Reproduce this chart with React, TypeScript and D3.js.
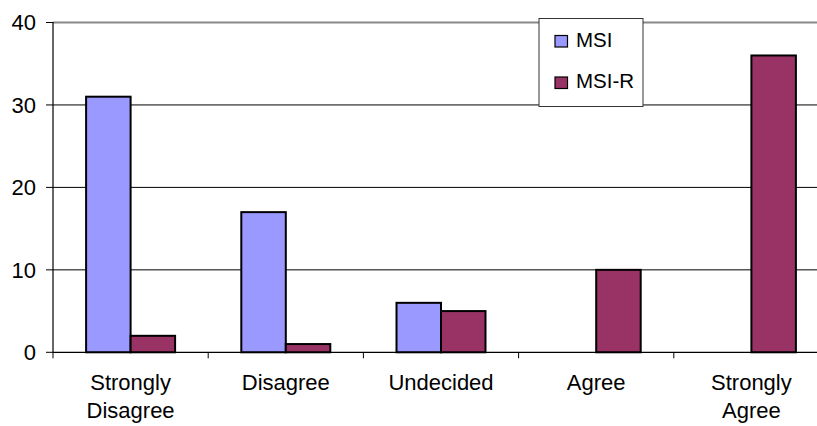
import React from 'react';
import * as d3 from 'd3';

const categories = ['Strongly Disagree', 'Disagree', 'Undecided', 'Agree', 'Strongly Agree'];
const seriesNames = ['MSI', 'MSI-R'];
const msi = [31, 17, 6, 0, 0];
const msiR = [2, 1, 5, 10, 36];
const yTicks = [0, 10, 20, 30, 40];
const colors = ['#9999ff', '#993366'];

const App = () => {
  const width = 817;
  const height = 426;
  const font = 'Liberation Sans, Arial, sans-serif';

  // plot area runs a little past the right edge, like the cropped original
  const x0 = d3.scaleBand().domain(categories).range([53, 829]).paddingInner(0).paddingOuter(0);
  const x1 = d3.scaleBand().domain(seriesNames).range([0, x0.bandwidth()]).paddingInner(0).paddingOuter(0.744);
  const y = d3.scaleLinear().domain([0, 40]).range([352.3, 22.5]);

  const values = [msi, msiR];
  const bars = categories.flatMap((c, i) =>
    seriesNames.map((s, j) => ({ c, s, v: values[j][i], color: colors[j] }))
  );

  const boundaries = categories.map((c) => x0(c)!);

  return (
    <svg
      width={width}
      height={height}
      style={{ position: 'absolute', left: 0, top: 0, background: '#fff' }}
    >
      {/* gridlines */}
      {yTicks.slice(1).map((t) => (
        <line
          key={t}
          x1={53}
          x2={width}
          y1={y(t)}
          y2={y(t)}
          stroke={t === 40 ? '#888' : '#000'}
          strokeWidth={t === 40 ? 2 : 1}
        />
      ))}

      {/* bars */}
      {bars.map((b) =>
        b.v > 0 ? (
          <rect
            key={b.c + b.s}
            x={x0(b.c)! + x1(b.s)!}
            y={y(b.v)}
            width={x1.bandwidth()}
            height={y(0) - y(b.v)}
            fill={b.color}
            stroke='#000'
            strokeWidth={2}
          />
        ) : null
      )}

      {/* axes */}
      <line x1={53} x2={53} y1={22} y2={352.3} stroke='#000' strokeWidth={1.2} />
      <line x1={53} x2={width} y1={y(0)} y2={y(0)} stroke='#000' strokeWidth={1.2} />
      {yTicks.map((t) => (
        <g key={t}>
          <line x1={46} x2={53} y1={y(t)} y2={y(t)} stroke='#000' />
          <text
            x={36}
            y={y(t)}
            dy='0.36em'
            textAnchor='end'
            style={{ fontSize: '22px', fontFamily: font }}
          >
            {t}
          </text>
        </g>
      ))}
      {boundaries.map((bx) => (
        <line key={bx} x1={bx} x2={bx} y1={y(0)} y2={y(0) + 6} stroke='#000' />
      ))}
      {categories.map((c) => {
        const words = c.split(' ');
        const cx = x0(c)! + x0.bandwidth() / 2;
        return (
          <text
            key={c}
            x={cx}
            y={390}
            textAnchor='middle'
            style={{ fontSize: '22px', fontFamily: font }}
          >
            {words.map((w, i) => (
              <tspan key={w} x={cx} dy={i === 0 ? 0 : 28}>
                {w}
              </tspan>
            ))}
          </text>
        );
      })}

      {/* legend */}
      <rect x={539} y={18.5} width={104} height={88} fill='#fff' stroke='#333' strokeWidth={1} />
      {seriesNames.map((s, i) => (
        <g key={s}>
          <rect
            x={555}
            y={35.5 + i * 41.5}
            width={12.5}
            height={11.5}
            fill={colors[i]}
            stroke='#000'
            strokeWidth={1.2}
          />
          <text x={576} y={46.5 + i * 41.5} style={{ fontSize: '20.5px', fontFamily: font }}>
            {s}
          </text>
        </g>
      ))}
    </svg>
  );
};

export default App;
